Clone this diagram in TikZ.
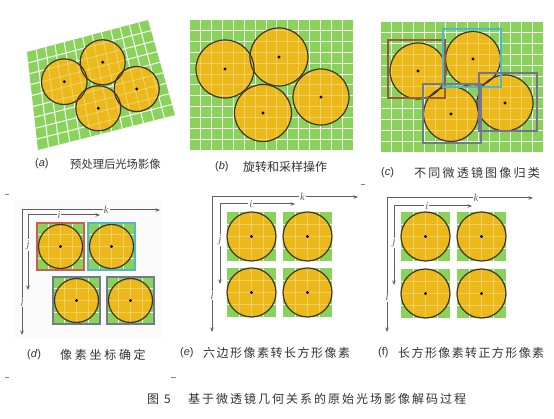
\documentclass[tikz,border=0pt]{standalone}
\usepackage{fontspec}
\setmainfont{Liberation Sans}
\newfontfamily\cjk{Noto Sans CJK SC}
\newfontfamily\labserif{Liberation Serif}
\usetikzlibrary{calc,arrows.meta}
\definecolor{grn}{HTML}{8AD25C}
\definecolor{yel}{HTML}{EBB91A}
\definecolor{rim}{HTML}{3B3522}
\definecolor{txt}{HTML}{333333}
\definecolor{axc}{HTML}{5F5F5F}
\definecolor{bxbrown}{HTML}{9A5A38}
\definecolor{bxcyan}{HTML}{4FB8C8}
\definecolor{bxgray}{HTML}{707C88}
\definecolor{bxpurp}{HTML}{7A7090}
\definecolor{bxred}{HTML}{C8604A}
\definecolor{mark}{HTML}{6A8AA8}
\makeatletter
\newcommand\spc[2]{\@tfor\ch:=#2\do{\ch\hspace{#1}}}
\makeatother
\tikzset{
  lensfill/.style={fill=yel},
  rimc/.style={draw=rim, line width=1.2pt},
  gridw/.style={draw=white, opacity=.85, line width=1pt},
  gridy/.style={draw=white, opacity=.3, line width=1pt},
  axis/.style={draw=axc, line width=1pt, {Stealth[length=4.5pt,width=3.5pt]}-{Stealth[length=4.5pt,width=3.5pt]}},
  lab/.style={fill=white, inner sep=1pt, font=\labserif\itshape\fontsize{10.5}{10.5}\selectfont, text=axc},
  capt/.style={text=txt, anchor=west, inner sep=0pt, font=\cjk\fontsize{12}{12}\selectfont},
  capl/.style={text=txt, anchor=west, inner sep=0pt, font=\fontsize{11}{11}\selectfont},
  tick/.style={draw=mark, line width=1pt},
}
% square cell with one lens: x, y (top-left), size, radius, border options
\newcommand\sqgrid[3]{%
  \foreach \g in {1,2,3}{
    \draw[#3] ({#1+\g*47/4},#2) -- ++(0,47);
  }}
\newcommand\sqlens[5]{%
  \fill[grn] (#1,#2) rectangle ++(#3,#3);
  \foreach \g in {1,2,3}{
    \draw[gridw] ({#1+\g*#3/4},#2) -- ++(0,#3);
    \draw[gridw] (#1,{#2+\g*#3/4}) -- ++(#3,0);
  }
  \fill[lensfill] ({#1+#3/2},{#2+#3/2}) circle[radius=#4pt];
  \foreach \g in {1,2,3}{
    \draw[gridy] ({#1+\g*#3/4},#2) -- ++(0,#3);
    \draw[gridy] (#1,{#2+\g*#3/4}) -- ++(#3,0);
  }
  \draw[rimc] ({#1+#3/2},{#2+#3/2}) circle[radius=#4pt];
  \fill ({#1+#3/2},{#2+#3/2}) circle[radius=1.6pt];
  \draw[#5, line width=1.1pt] (#1,#2) rectangle ++(#3,#3);
}
\begin{document}
\begin{tikzpicture}[x=1pt,y=-1pt]
\useasboundingbox (0,0) rectangle (554,419);
\fill[white] (0,0) rectangle (554,419);

% ---------------- (a) ----------------
\coordinate (aA) at (27,52);
\coordinate (aB) at (148,20);
\coordinate (aC) at (175,115);
\coordinate (aD) at (38,150);
\fill[grn] (aA) -- (aB) -- (aC) -- (aD) -- cycle;
\foreach \k in {1,...,12}
  \draw[gridw] ($(aA)!\k/13!(aB)$) -- ($(aD)!\k/13!(aC)$);
\foreach \k in {1,...,8}
  \draw[gridw] ($(aA)!\k/9!(aD)$) -- ($(aB)!\k/9!(aC)$);
\foreach \c/\r in {{(64.3,81.7)}/22.8, {(102.7,62.3)}/22.5, {(98.3,108.3)}/22.5, {(136.7,89)}/22.5}
  \fill[lensfill] \c circle[radius=\r pt];
\foreach \k in {1,...,12}
  \draw[gridy] ($(aA)!\k/13!(aB)$) -- ($(aD)!\k/13!(aC)$);
\foreach \k in {1,...,8}
  \draw[gridy] ($(aA)!\k/9!(aD)$) -- ($(aB)!\k/9!(aC)$);
\foreach \c/\r in {{(64.3,81.7)}/22.8, {(102.7,62.3)}/22.5, {(98.3,108.3)}/22.5, {(136.7,89)}/22.5}{
  \draw[rimc] \c circle[radius=\r pt];
  \fill \c circle[radius=1.6pt];
}
\node[capl] (capA) at (35,164) {(\textit{a})};
\node[capt, font=\cjk\fontsize{11.3}{11.3}\selectfont] (capAt) at (70,164) {预处理后光场影像};

% ---------------- (b) ----------------
\fill[grn] (190,20) rectangle (353,150);
\foreach \k in {1,...,14} \draw[gridw] ({190+\k*163/15},20) -- ++(0,130);
\foreach \k in {1,...,11} \draw[gridw] (190,{20+\k*130/12}) -- ++(163,0);
\foreach \c/\r in {{(225,69)}/29, {(279,57)}/29, {(263,113)}/28.5, {(321,97)}/28}
  \fill[lensfill] \c circle[radius=\r pt];
\foreach \k in {1,...,14} \draw[gridy] ({190+\k*163/15},20) -- ++(0,130);
\foreach \k in {1,...,11} \draw[gridy] (190,{20+\k*130/12}) -- ++(163,0);
\foreach \c/\r in {{(225,69)}/29, {(279,57)}/29, {(263,113)}/28.5, {(321,97)}/28}{
  \draw[rimc] \c circle[radius=\r pt];
  \fill \c circle[radius=1.6pt];
}
\node[capl] (capB) at (215,167) {(\textit{b})};
\node[capt] (capBt) at (243,167) {旋转和采样操作};

% ---------------- (c) ----------------
\fill[grn] (381,22) rectangle (543,152);
\foreach \k in {1,...,14} \draw[gridw] ({381+\k*162/15},22) -- ++(0,130);
\foreach \k in {1,...,11} \draw[gridw] (381,{22+\k*130/12}) -- ++(162,0);
\foreach \c/\r in {{(418,71)}/28, {(473,59)}/27.5, {(451,114)}/27.5, {(505,103)}/28}
  \fill[lensfill] \c circle[radius=\r pt];
\foreach \k in {1,...,14} \draw[gridy] ({381+\k*162/15},22) -- ++(0,130);
\foreach \k in {1,...,11} \draw[gridy] (381,{22+\k*130/12}) -- ++(162,0);
\foreach \c/\r in {{(418,71)}/28, {(473,59)}/27.5, {(451,114)}/27.5, {(505,103)}/28}{
  \draw[rimc] \c circle[radius=\r pt];
  \fill \c circle[radius=1.6pt];
}
\draw[bxbrown, line width=1.1pt] (388,40) rectangle (445,98);
\draw[bxcyan, line width=1.1pt] (443,29) rectangle (501,87);
\draw[bxgray, line width=1.1pt] (423,84) rectangle (481,143);
\draw[bxpurp, line width=1.1pt] (479,73) rectangle (537,131);
\node[capl] (capC) at (381,173) {(\textit{c})};
\node[capt] (capCt) at (414,173) {\spc{2.2pt}{不同微透镜图像归类}};

% ---------------- (d) ----------------
\fill[black!2] (13,200) rectangle (162,337);
\sqlens{37}{223}{47}{22}{bxred}
\sqlens{88}{223}{47}{22}{bxcyan}
\sqlens{53}{277}{47}{22}{bxgray}
\sqlens{107}{277}{47}{22}{bxgray}
\coordinate (dO) at (22,210);
\coordinate (dK) at (160,210);
\coordinate (dL) at (22,335);
\coordinate (dI) at (28,215);
\coordinate (dIe) at (100,215);
\coordinate (dJe) at (28,290);
\draw[axis] (dL) -- node[lab, pos=0.26] (dlabL) {l} (dO) -- node[lab, pos=0.61] (dlabK) {k} (dK);
\draw[axis] (dJe) -- node[lab, pos=0.6] (dlabJ) {j} (dI) -- node[lab, pos=0.43] (dlabI) {i} (dIe);
\node[capl] (capD) at (27,355) {(\textit{d})};
\node[capt] (capDt) at (60,355) {\spc{2.7pt}{像素坐标确定}};

% ---------------- (e) ----------------
\sqlens{227}{212}{49}{24.5}{draw=none}
\sqlens{283}{212}{49}{24.5}{draw=none}
\sqlens{227}{268}{49}{24.5}{draw=none}
\sqlens{283}{268}{49}{24.5}{draw=none}
\coordinate (eO) at (212,197);
\coordinate (eK) at (358,197);
\coordinate (eL) at (212,332);
\coordinate (eI) at (220,204);
\coordinate (eIe) at (295,204);
\coordinate (eJe) at (220,284);
\draw[axis] (eL) -- node[lab, pos=0.27] (elabL) {l} (eO) -- node[lab, pos=0.62] (elabK) {k} (eK);
\draw[axis] (eJe) -- node[lab, pos=0.55] (elabJ) {j} (eI) -- node[lab, pos=0.41] (elabI) {i} (eIe);
\node[capl] (capE) at (180,353) {(\textit{e})};
\node[capt] (capEt) at (203,353) {\spc{1.5pt}{六边形像素转长方形像素}};

% ---------------- (f) ----------------
\sqlens{401}{212}{49}{24.5}{draw=none}
\sqlens{457}{212}{49}{24.5}{draw=none}
\sqlens{401}{269}{49}{24.5}{draw=none}
\sqlens{457}{269}{49}{24.5}{draw=none}
\coordinate (fO) at (387,198);
\coordinate (fK) at (533,198);
\coordinate (fL) at (387,332);
\coordinate (fI) at (394,206);
\coordinate (fIe) at (472,206);
\coordinate (fJe) at (394,285);
\draw[axis] (fL) -- node[lab, pos=0.26] (flabL) {l} (fO) -- node[lab, pos=0.61] (flabK) {k} (fK);
\draw[axis] (fJe) -- node[lab, pos=0.54] (flabJ) {j} (fI) -- node[lab, pos=0.42] (flabI) {i} (fIe);
\node[capl] (capF) at (378,353) {(f)};
\node[capt] (capFt) at (398,353) {\spc{1.4pt}{长方形像素转正方形像素}};

% ---------------- figure caption ----------------
\node[capt] (figno) at (147,399) {图\hspace{5pt}5};
\node[capt] (figtxt) at (188,399) {\spc{2pt}{基于微透镜几何关系的原始光场影像解码过程}};

% tiny marks
\draw[tick] (5,195) -- (9,195);
\draw[tick] (5,377) -- (9,377);
\draw[tick] (171,377) -- (176,377);
\draw[tick] (361,185) -- (365,185);
\end{tikzpicture}
\end{document}
